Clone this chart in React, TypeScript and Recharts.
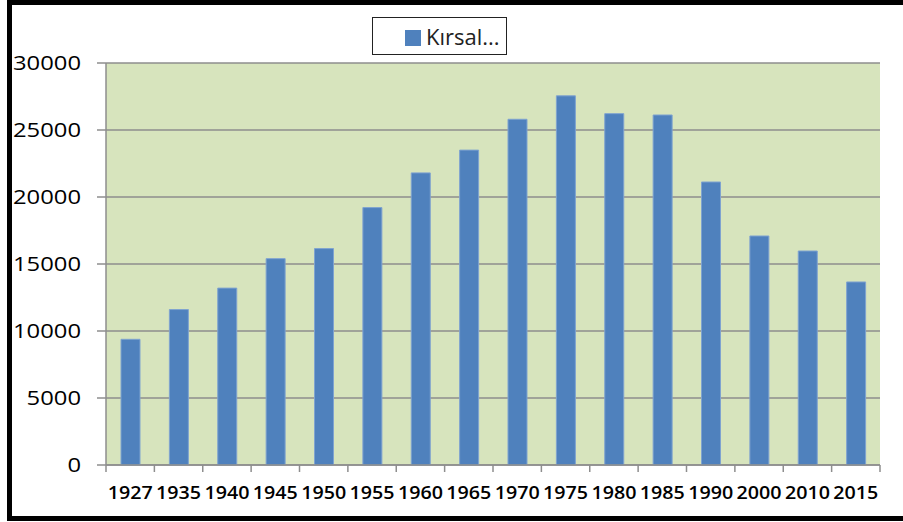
import React from 'react';
import { BarChart, Bar, XAxis, YAxis, CartesianGrid, Legend } from 'recharts';

const years = ['1927', '1935', '1940', '1945', '1950', '1955', '1960', '1965', '1970', '1975', '1980', '1985', '1990', '2000', '2010', '2015'];
const rural = [9380, 11600, 13200, 15400, 16150, 19210, 21800, 23500, 25800, 27550, 26220, 26120, 21120, 17090, 15970, 13660];
const yTicks = [0, 5000, 10000, 15000, 20000, 25000, 30000];
const seriesName = 'Kırsal...';

const data = years.map((y, i) => ({ year: y, rural: rural[i] }));

const XTick = (props: any) => {
  const { x, y, payload, index, visibleTicksCount } = props;
  const half = payload && payload.offset ? payload.offset : 774 / 16 / 2;
  const last = index === (visibleTicksCount ?? years.length) - 1;
  return (
    <g>
      <line x1={x - half} x2={x - half} y1={y} y2={y + 7} stroke="#8E8E8E" strokeWidth={1.5} />
      {last && <line x1={x + half} x2={x + half} y1={y} y2={y + 7} stroke="#8E8E8E" strokeWidth={1.5} />}
      <text
        x={x}
        y={y + 34}
        textAnchor="middle"
        fontFamily="'Open Sans', sans-serif"
        fontSize={18}
        fontWeight={600}
        fill="#000"
        textLength={45}
        lengthAdjust="spacingAndGlyphs"
      >
        {payload.value}
      </text>
    </g>
  );
};

const YTick = (props: any) => {
  const { x, y, payload } = props;
  const s = String(payload.value);
  return (
    <text
      x={x}
      y={y + 7}
      textAnchor="end"
      fontFamily="'Open Sans', sans-serif"
      fontSize={20}
      fill="#000"
      textLength={13.6 * s.length}
      lengthAdjust="spacingAndGlyphs"
    >
      {s}
    </text>
  );
};

const LegendBox = () => (
  <div
    style={{
      width: 135,
      height: 38,
      boxSizing: 'border-box',
      border: '1px solid #222',
      background: '#fff',
      position: 'relative',
    }}
  >
    <div style={{ position: 'absolute', left: 32, top: 12, width: 16, height: 16, background: '#4F81BD' }} />
    <div
      style={{
        position: 'absolute',
        left: 53,
        top: 3,
        fontFamily: "'Open Sans', sans-serif",
        fontSize: 22,
        lineHeight: '30px',
        color: '#222',
        whiteSpace: 'nowrap',
      }}
    >
      {seriesName}
    </div>
  </div>
);

export default function App() {
  return (
    <div style={{ position: 'absolute', left: 0, top: 0, width: 903, height: 522, background: '#fff', overflow: 'hidden' }}>
      <BarChart
        width={903}
        height={522}
        data={data}
        margin={{ top: 63, right: 23, bottom: 17, left: 13 }}
        barCategoryGap={0}
      >
        <CartesianGrid vertical={false} fill="#D7E4BD" stroke="#8E8E8E" strokeWidth={1.5} fillOpacity={1} />
        <XAxis
          dataKey="year"
          height={40}
          tickSize={0}
          tickMargin={0}
          interval={0}
          tick={<XTick />}
          axisLine={{ stroke: '#8E8E8E', strokeWidth: 1.5 }}
        />
        <YAxis
          width={93}
          domain={[0, 30000]}
          ticks={yTicks}
          interval={0}
          tickSize={9}
          tickMargin={16}
          tick={<YTick />}
          tickLine={{ stroke: '#8E8E8E', strokeWidth: 1.5 }}
          axisLine={{ stroke: '#8E8E8E', strokeWidth: 1.5 }}
        />
        <YAxis
          yAxisId="r"
          orientation="right"
          width={0}
          domain={[0, 30000]}
          tick={false}
          tickLine={false}
          axisLine={{ stroke: '#222', strokeWidth: 1.5 }}
        />
        <Legend
          layout="vertical"
          align="center"
          verticalAlign="middle"
          wrapperStyle={{ left: 372, top: 17, width: 135, height: 38 }}
          content={<LegendBox />}
        />
        <Bar
          dataKey="rural"
          name={seriesName}
          fill="#4F81BD"
          stroke="#7FA3D0"
          strokeWidth={1}
          barSize={19}
          isAnimationActive={false}
        />
      </BarChart>
      <div style={{ position: 'absolute', left: 7, top: 0, width: 896, height: 5, background: '#000' }} />
      <div style={{ position: 'absolute', left: 7, top: 0, width: 5, height: 521, background: '#000' }} />
      <div style={{ position: 'absolute', left: 7, top: 516, width: 896, height: 5, background: '#000' }} />
    </div>
  );
}
